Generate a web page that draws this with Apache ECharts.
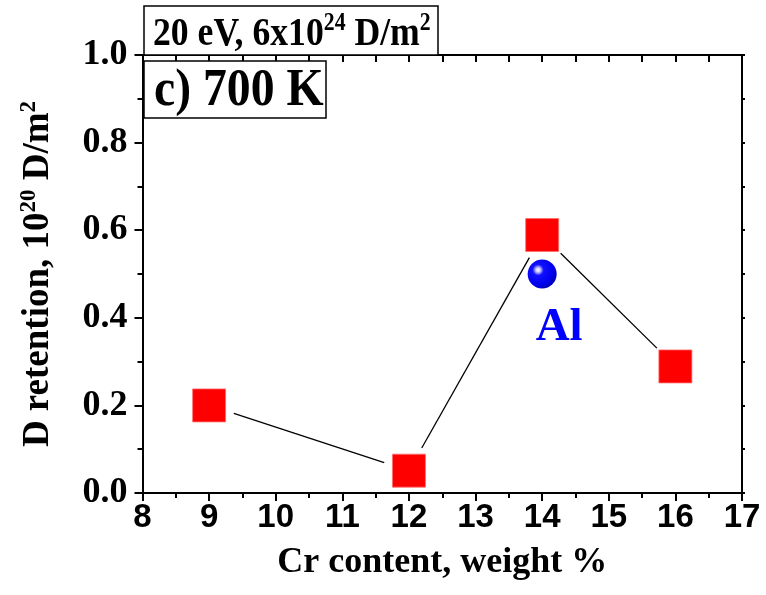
<!DOCTYPE html>
<html>
<head>
<meta charset="utf-8">
<script src="https://cdn.jsdelivr.net/npm/echarts@6/dist/echarts.min.js"></script>
<style>html,body{margin:0;padding:0;background:#fff;}#c{width:766px;height:595px;}</style>
</head>
<body>
<div id="c"></div>
<script>
const crContent = [9, 12, 14, 16];
const dRetention = [0.20, 0.051, 0.589, 0.289];
const alPoint = [[14, 0.50]];
const xTicks = [8, 9, 10, 11, 12, 13, 14, 15, 16, 17];
const yTicks = [0.0, 0.2, 0.4, 0.6, 0.8, 1.0];

const pts = crContent.map((x, i) => [x, dRetention[i]]);
const chart = echarts.init(document.getElementById('c'));
const serif = '"Liberation Serif","Times New Roman",serif';
const sans = '"Liberation Sans",Arial,sans-serif';
const GAP = 26; // Origin-style gap between connecting line and symbol

chart.setOption({
  animation: false,
  backgroundColor: '#fff',
  grid: { left: 142.5, right: 24, top: 55, bottom: 102, containLabel: false },
  xAxis: [{
    type: 'value', min: xTicks[0], max: xTicks[xTicks.length - 1], interval: 1,
    position: 'bottom',
    axisLine: { onZero: false, lineStyle: { color: '#000', width: 2 } },
    axisTick: { inside: false, length: 8, lineStyle: { color: '#000', width: 2 } },
    minorTick: { show: true, splitNumber: 2, length: 5, lineStyle: { color: '#000', width: 2 } },
    splitLine: { show: false },
    axisLabel: { color: '#000', fontFamily: sans, fontWeight: 'bold', fontSize: 33, margin: 8 },
    name: 'Cr content, weight %', nameLocation: 'middle', nameGap: 52,
    nameTextStyle: { color: '#000', fontFamily: serif, fontWeight: 'bold', fontSize: 36 }
  }, {
    type: 'value', min: xTicks[0], max: xTicks[xTicks.length - 1], interval: 0.5,
    position: 'top',
    axisLine: { onZero: false, lineStyle: { color: '#000', width: 2 } },
    axisTick: { inside: true, length: 7, lineStyle: { color: '#000', width: 2 } },
    axisLabel: { show: false }, splitLine: { show: false }
  }],
  yAxis: [{
    type: 'value', min: yTicks[0], max: yTicks[yTicks.length - 1], interval: 0.2,
    position: 'left',
    axisLine: { onZero: false, lineStyle: { color: '#000', width: 2 } },
    axisTick: { inside: false, length: 8, lineStyle: { color: '#000', width: 2 } },
    minorTick: { show: true, splitNumber: 2, length: 5, lineStyle: { color: '#000', width: 2 } },
    splitLine: { show: false },
    axisLabel: { color: '#000', fontFamily: serif, fontWeight: 'bold', fontSize: 36, margin: 15,
      formatter: v => v.toFixed(1) },
    name: '{a|D retention, 10}{s|20}{a| D/m}{s|2}', nameLocation: 'middle', nameRotate: 90, nameGap: 84,
    nameTextStyle: { color: '#000', rich: {
      a: { fontFamily: serif, fontWeight: 'bold', fontSize: 37, color: '#000' },
      s: { fontFamily: serif, fontWeight: 'bold', fontSize: 23, color: '#000', padding: [0, 0, 18, 0] }
    } }
  }, {
    type: 'value', min: yTicks[0], max: yTicks[yTicks.length - 1], interval: 0.1,
    position: 'right',
    axisLine: { onZero: false, lineStyle: { color: '#000', width: 2 } },
    axisTick: { inside: false, length: 3, lineStyle: { color: '#000', width: 2 } },
    axisLabel: { show: false }, splitLine: { show: false }
  }],
  series: [{
    type: 'custom', data: pts, z: 2, silent: true,
    renderItem: function (params, api) {
      const i = params.dataIndex;
      if (i >= pts.length - 1) return null;
      const a = api.coord([api.value(0), api.value(1)]);
      const b = api.coord(pts[i + 1]);
      const dx = b[0] - a[0], dy = b[1] - a[1];
      const len = Math.sqrt(dx * dx + dy * dy);
      const ux = dx / len, uy = dy / len;
      return {
        type: 'line',
        shape: { x1: a[0] + ux * GAP, y1: a[1] + uy * GAP, x2: b[0] - ux * GAP, y2: b[1] - uy * GAP },
        style: { stroke: '#000', lineWidth: 1.3 }
      };
    }
  }, {
    type: 'scatter', data: pts, symbol: 'rect', symbolSize: 33, z: 4,
    itemStyle: { color: '#ff0000', opacity: 1, borderColor: '#ff7070', borderWidth: 0.8 }
  }, {
    type: 'scatter', data: alPoint, symbol: 'circle', symbolSize: 29, z: 5,
    itemStyle: { opacity: 1, color: { type: 'radial', x: 0.36, y: 0.36, r: 0.64, colorStops: [
      { offset: 0, color: '#ffffff' }, { offset: 0.12, color: '#c8c8ff' },
      { offset: 0.3, color: '#1010ff' }, { offset: 0.8, color: '#0000ee' }, { offset: 1, color: '#0000c0' }] } },
    label: { show: true, position: 'bottom', formatter: 'Al', distance: 16, offset: [17, 0],
      color: '#0000ff', fontFamily: serif, fontWeight: 'bold', fontSize: 47 }
  }],
  graphic: [
    { type: 'rect', z: 100, shape: { x: 144, y: 6, width: 294, height: 49 },
      style: { fill: '#fff', stroke: '#000', lineWidth: 1.5 } },
    { type: 'text', z: 101, x: 153, y: 34, scaleX: 0.87, originX: 0, originY: 0,
      style: { text: '{a|20 eV, 6x10}{s|24}{a| D/m}{s|2}', verticalAlign: 'middle', align: 'left',
        rich: { a: { fontFamily: serif, fontWeight: 'bold', fontSize: 41, fill: '#000' },
                s: { fontFamily: serif, fontWeight: 'bold', fontSize: 25, fill: '#000', padding: [0, 0, 20, 0] } } } },
    { type: 'rect', z: 100, shape: { x: 144, y: 61, width: 182, height: 57 },
      style: { fill: '#fff', stroke: '#000', lineWidth: 1.5 } },
    { type: 'text', z: 101, x: 154, y: 91, scaleX: 0.9, originX: 0, originY: 0,
      style: { text: 'c) 700 K', verticalAlign: 'middle', align: 'left',
        fontFamily: serif, fontWeight: 'bold', fontSize: 53, fill: '#000' } }
  ]
});
</script>
</body>
</html>
